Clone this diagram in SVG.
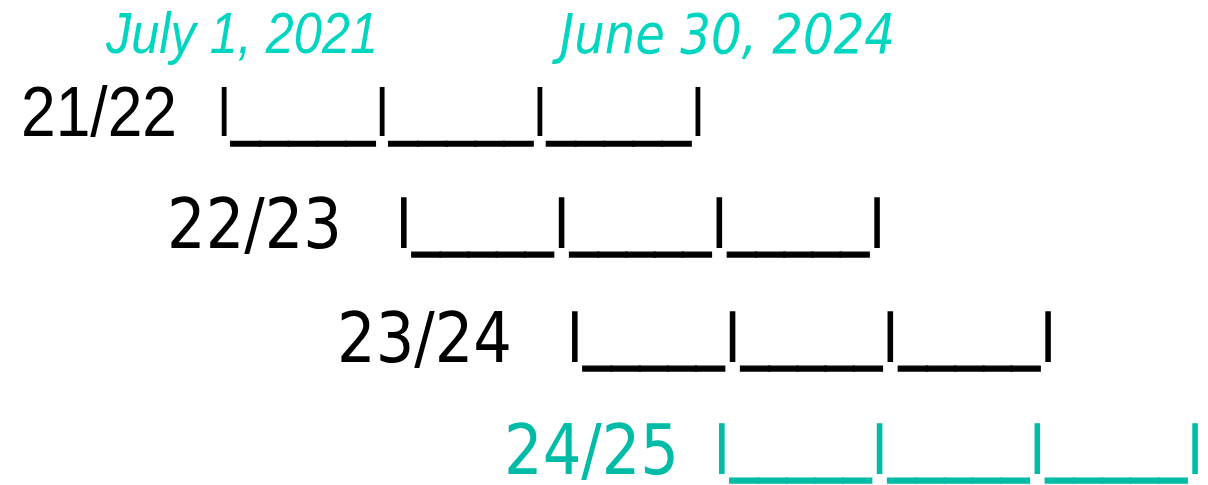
<svg xmlns="http://www.w3.org/2000/svg" width="1208" height="485" viewBox="0 0 1208 485">
<style>
.date{font-family:"Liberation Sans",Arial,sans-serif;font-style:italic;font-size:57px;fill:#00D5C0}
.date2{font-family:"DejaVu Sans",Tahoma,sans-serif;font-style:italic;font-size:56px;fill:#00D5C0}
.a{font-family:"Liberation Sans",Arial,sans-serif;font-size:70px;fill:#000}
.d{font-family:"DejaVu Sans",Tahoma,sans-serif;font-size:69px;fill:#000}
.teal{fill:#00BBA5}
.u{stroke:#000;stroke-width:1.4}
.teal .u{stroke:#00BBA5}
</style>
<rect width="1208" height="485" fill="#fff"/>
<g id="dates">
<text class="date" x="106" y="53" textLength="272" lengthAdjust="spacingAndGlyphs">July 1, 2021</text>
<text class="date2" x="560" y="53" textLength="335" lengthAdjust="spacingAndGlyphs">June 30, 2024</text>
</g>
<g id="row1">
<text class="a" x="21" y="135.5" textLength="156" lengthAdjust="spacingAndGlyphs">21/22</text>
<text class="a" x="217" y="135.5" textLength="488" lengthAdjust="spacingAndGlyphs">I<tspan class="u" dy="-4">_____</tspan><tspan dy="4">I</tspan><tspan class="u" dy="-4">_____</tspan><tspan dy="4">I</tspan><tspan class="u" dy="-4">_____</tspan><tspan dy="4">I</tspan></text>
</g>
<g id="row2">
<text class="d" x="167" y="248" textLength="175" lengthAdjust="spacingAndGlyphs">22/23</text>
<text class="d" x="395.5" y="248" textLength="490" lengthAdjust="spacingAndGlyphs">I<tspan class="u" dy="-7">_____</tspan><tspan dy="7">I</tspan><tspan class="u" dy="-7">_____</tspan><tspan dy="7">I</tspan><tspan class="u" dy="-7">_____</tspan><tspan dy="7">I</tspan></text>
</g>
<g id="row3">
<text class="d" x="337" y="362" textLength="175" lengthAdjust="spacingAndGlyphs">23/24</text>
<text class="d" x="566.5" y="362" textLength="490" lengthAdjust="spacingAndGlyphs">I<tspan class="u" dy="-7">_____</tspan><tspan dy="7">I</tspan><tspan class="u" dy="-7">_____</tspan><tspan dy="7">I</tspan><tspan class="u" dy="-7">_____</tspan><tspan dy="7">I</tspan></text>
</g>
<g id="row4" class="teal">
<text class="d teal" x="504" y="474" textLength="175" lengthAdjust="spacingAndGlyphs">24/25</text>
<text class="d teal" x="713.5" y="474" textLength="490" lengthAdjust="spacingAndGlyphs">I<tspan class="u" dy="-7">_____</tspan><tspan dy="7">I</tspan><tspan class="u" dy="-7">_____</tspan><tspan dy="7">I</tspan><tspan class="u" dy="-7">_____</tspan><tspan dy="7">I</tspan></text>
</g>
</svg>
